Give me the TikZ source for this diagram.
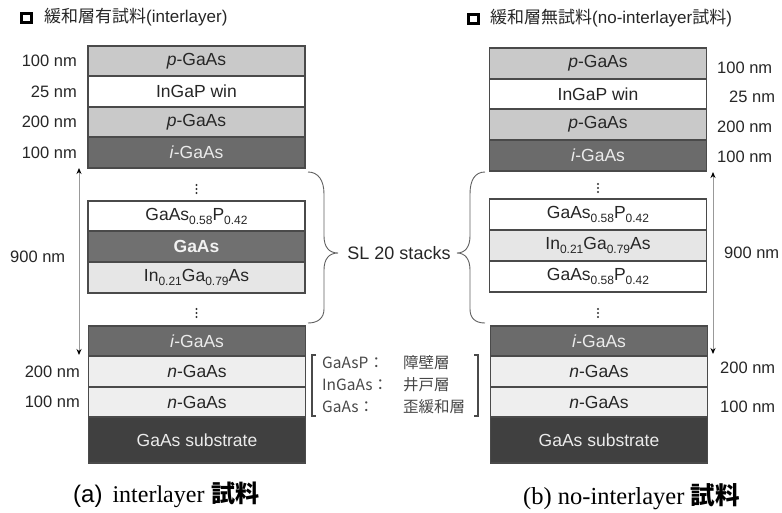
\documentclass[tikz,border=0pt]{standalone}
\usepackage{fontspec}
\setmainfont{Liberation Sans}
\newfontfamily\cjk{Noto Sans CJK JP}
\newfontfamily\serifc{Liberation Serif}
\usetikzlibrary{arrows.meta}
\definecolor{pg}{HTML}{C9C9C9}
\definecolor{ig}{HTML}{6B6B6B}
\definecolor{ga}{HTML}{707070}
\definecolor{ing}{HTML}{E6E6E6}
\definecolor{ng}{HTML}{EEEEEE}
\definecolor{sub}{HTML}{404040}
\definecolor{bord}{HTML}{4A4A4A}
\definecolor{txt}{HTML}{262626}
\newcommand\lsub[1]{\raisebox{-4pt}{\fontsize{12}{12}\selectfont #1}}
\tikzset{
  layer/.style={draw=bord, line width=1.2pt, minimum width=217pt, inner sep=0pt, text=txt,
    font=\fontsize{17.5}{19}\selectfont},
  lab/.style={inner sep=0pt, text=txt, font=\fontsize{16.5}{18}\selectfont},
  leg/.style={inner sep=0pt, text=txt!85, font=\cjk\fontsize{15.5}{17}\selectfont, anchor=west},
  dimarrow/.style={draw=gray!80, line width=0.9pt,
    {Stealth[length=6pt,width=5pt,color=black]}-{Stealth[length=6pt,width=5pt,color=black]}},
  bracec/.style={draw=gray!75!black, line width=0.9pt},
  hdr/.style={inner sep=0pt, anchor=west, text=txt, font=\fontsize{17}{19}\selectfont},
  hbox/.style={draw=black, line width=3pt, minimum size=9.5pt, inner sep=0pt},
  dotc/.style={fill=gray!40!black, draw=none},
}
\begin{document}
\begin{tikzpicture}[x=1pt,y=-1pt]
\useasboundingbox (0,0) rectangle (782,512);

% headers
\node[hbox] (hsqa) at (26.5,18) {};
\node[hdr] (hdra) at (44,17) {{\cjk 緩和層有試料}(interlayer)};
\node[hbox] (hsqb) at (473.5,19) {};
\node[hdr] (hdrb) at (490,18) {{\cjk 緩和層無試料}(no-interlayer{\cjk 試料})};

% left stack
\node[layer, fill=pg, minimum height=30pt] (a1) at (196.5,61) {\textit{p}-GaAs};
\node[layer, fill=white, minimum height=31pt] (a2) at (196.5,91.5) {InGaP win};
\node[layer, fill=pg, minimum height=30pt] (a3) at (196.5,122) {\textit{p}-GaAs};
\node[layer, fill=ig, minimum height=31pt, text=white!92!black] (a4) at (196.5,152.5) {\textit{i}-GaAs};
\node[layer, fill=white, minimum height=30pt] (a5) at (196.5,216) {GaAs\lsub{0.58}P\lsub{0.42}};
\node[layer, fill=ga, minimum height=31pt, text=white!95!black, font=\bfseries\fontsize{17.5}{19}\selectfont] (a6) at (196.5,246.5) {GaAs};
\node[layer, fill=ing, minimum height=31pt] (a7) at (196.5,277.5) {In\lsub{0.21}Ga\lsub{0.79}As};
\node[layer, fill=ig, minimum height=30pt, text=white!92!black] (a8) at (197,341) {\textit{i}-GaAs};
\node[layer, fill=ng, minimum height=31pt] (a9) at (197,371.5) {\textit{n}-GaAs};
\node[layer, fill=ng, minimum height=30pt] (a10) at (197,402) {\textit{n}-GaAs};
\node[layer, fill=sub, minimum height=46pt, text=white!92!black] (a11) at (197,440) {GaAs substrate};

% left dots
\foreach \yy in {185,189,193,309,313,317} \fill[dotc] (196.5,\yy) circle (1.1);

% left labels
\node[lab, anchor=east] (la1) at (77,61) {100 nm};
\node[lab, anchor=east] (la2) at (77,92) {25 nm};
\node[lab, anchor=east] (la3) at (77,122) {200 nm};
\node[lab, anchor=east] (la4) at (77,153) {100 nm};
\node[lab, anchor=west] (la5) at (10,257) {900 nm};
\node[lab, anchor=east] (la6) at (80,372) {200 nm};
\node[lab, anchor=east] (la7) at (80,402) {100 nm};
\coordinate (lt) at (79,168);
\coordinate (lb) at (79,355);
\draw[dimarrow] (lt) -- (lb);

% right stack
\node[layer, fill=pg, minimum height=31pt] (b1) at (598,63.5) {\textit{p}-GaAs};
\node[layer, fill=white, minimum height=30pt] (b2) at (598,94) {InGaP win};
\node[layer, fill=pg, minimum height=31pt] (b3) at (598,124.5) {\textit{p}-GaAs};
\node[layer, fill=ig, minimum height=31pt, text=white!92!black] (b4) at (598,155.5) {\textit{i}-GaAs};
\node[layer, fill=white, minimum height=31pt] (b5) at (598,214.5) {GaAs\lsub{0.58}P\lsub{0.42}};
\node[layer, fill=ing, minimum height=31pt] (b6) at (598,245.5) {In\lsub{0.21}Ga\lsub{0.79}As};
\node[layer, fill=white, minimum height=31pt] (b7) at (598,276.5) {GaAs\lsub{0.58}P\lsub{0.42}};
\node[layer, fill=ig, minimum height=30pt, text=white!92!black] (b8) at (599,341) {\textit{i}-GaAs};
\node[layer, fill=ng, minimum height=31pt] (b9) at (599,371.5) {\textit{n}-GaAs};
\node[layer, fill=ng, minimum height=30pt] (b10) at (599,402) {\textit{n}-GaAs};
\node[layer, fill=sub, minimum height=46pt, text=white!92!black] (b11) at (599,440) {GaAs substrate};

\foreach \yy in {184,188,192,309,313,317} \fill[dotc] (598,\yy) circle (1.1);

% right labels
\node[lab, anchor=west] (ra1) at (717,68) {100 nm};
\node[lab, anchor=west] (ra2) at (729,97) {25 nm};
\node[lab, anchor=west] (ra3) at (717,127) {200 nm};
\node[lab, anchor=west] (ra4) at (717,157) {100 nm};
\node[lab, anchor=west] (ra5) at (724,253) {900 nm};
\node[lab, anchor=west] (ra6) at (720,368) {200 nm};
\node[lab, anchor=west] (ra7) at (720,407) {100 nm};
\coordinate (rt) at (713,172);
\coordinate (rb) at (713,354);
\draw[dimarrow] (rt) -- (rb);

% braces
\draw[bracec] (308,172) .. controls (318,172) and (324,180) .. (324,194) -- (324,236)
  .. controls (324,247) and (329,253) .. (338,253)
  .. controls (329,253) and (324,259) .. (324,270) -- (324,309)
  .. controls (324,318) and (318,323) .. (308,323);
\draw[bracec] (485,172) .. controls (475,172) and (470,180) .. (470,194) -- (470,236)
  .. controls (470,247) and (465,253) .. (457,253)
  .. controls (465,253) and (470,259) .. (470,270) -- (470,309)
  .. controls (470,318) and (475,323) .. (485,323);
\node[lab, font=\fontsize{18}{20}\selectfont] (sl) at (399,253) {SL 20 stacks};

% legend
\draw[draw=bord, line width=1.1pt] (316,355) -- (312,355) -- (312,416) -- (316,416);
\draw[draw=bord, line width=1.1pt] (474,355) -- (478,355) -- (478,416) -- (474,416);
\node[leg] (g1) at (322,363) {GaAsP：};
\node[leg] (g2) at (322,385) {InGaAs：};
\node[leg] (g3) at (322,407) {GaAs：};
\node[leg] (j1) at (403,363) {障壁層};
\node[leg] (j2) at (403,385) {井戸層};
\node[leg] (j3) at (403,407) {歪緩和層};

% captions
\node[inner sep=0pt, anchor=west, text=black] (capa) at (73,495)
  {\fontsize{24}{26}\selectfont (a)\hspace{10pt}{\serifc interlayer} {\cjk\bfseries 試料}};
\node[inner sep=0pt, anchor=west, text=black] (capb) at (523,497)
  {\fontsize{24.5}{26}\selectfont\serifc (b) no-interlayer {\cjk\bfseries 試料}};
\end{tikzpicture}
\end{document}
